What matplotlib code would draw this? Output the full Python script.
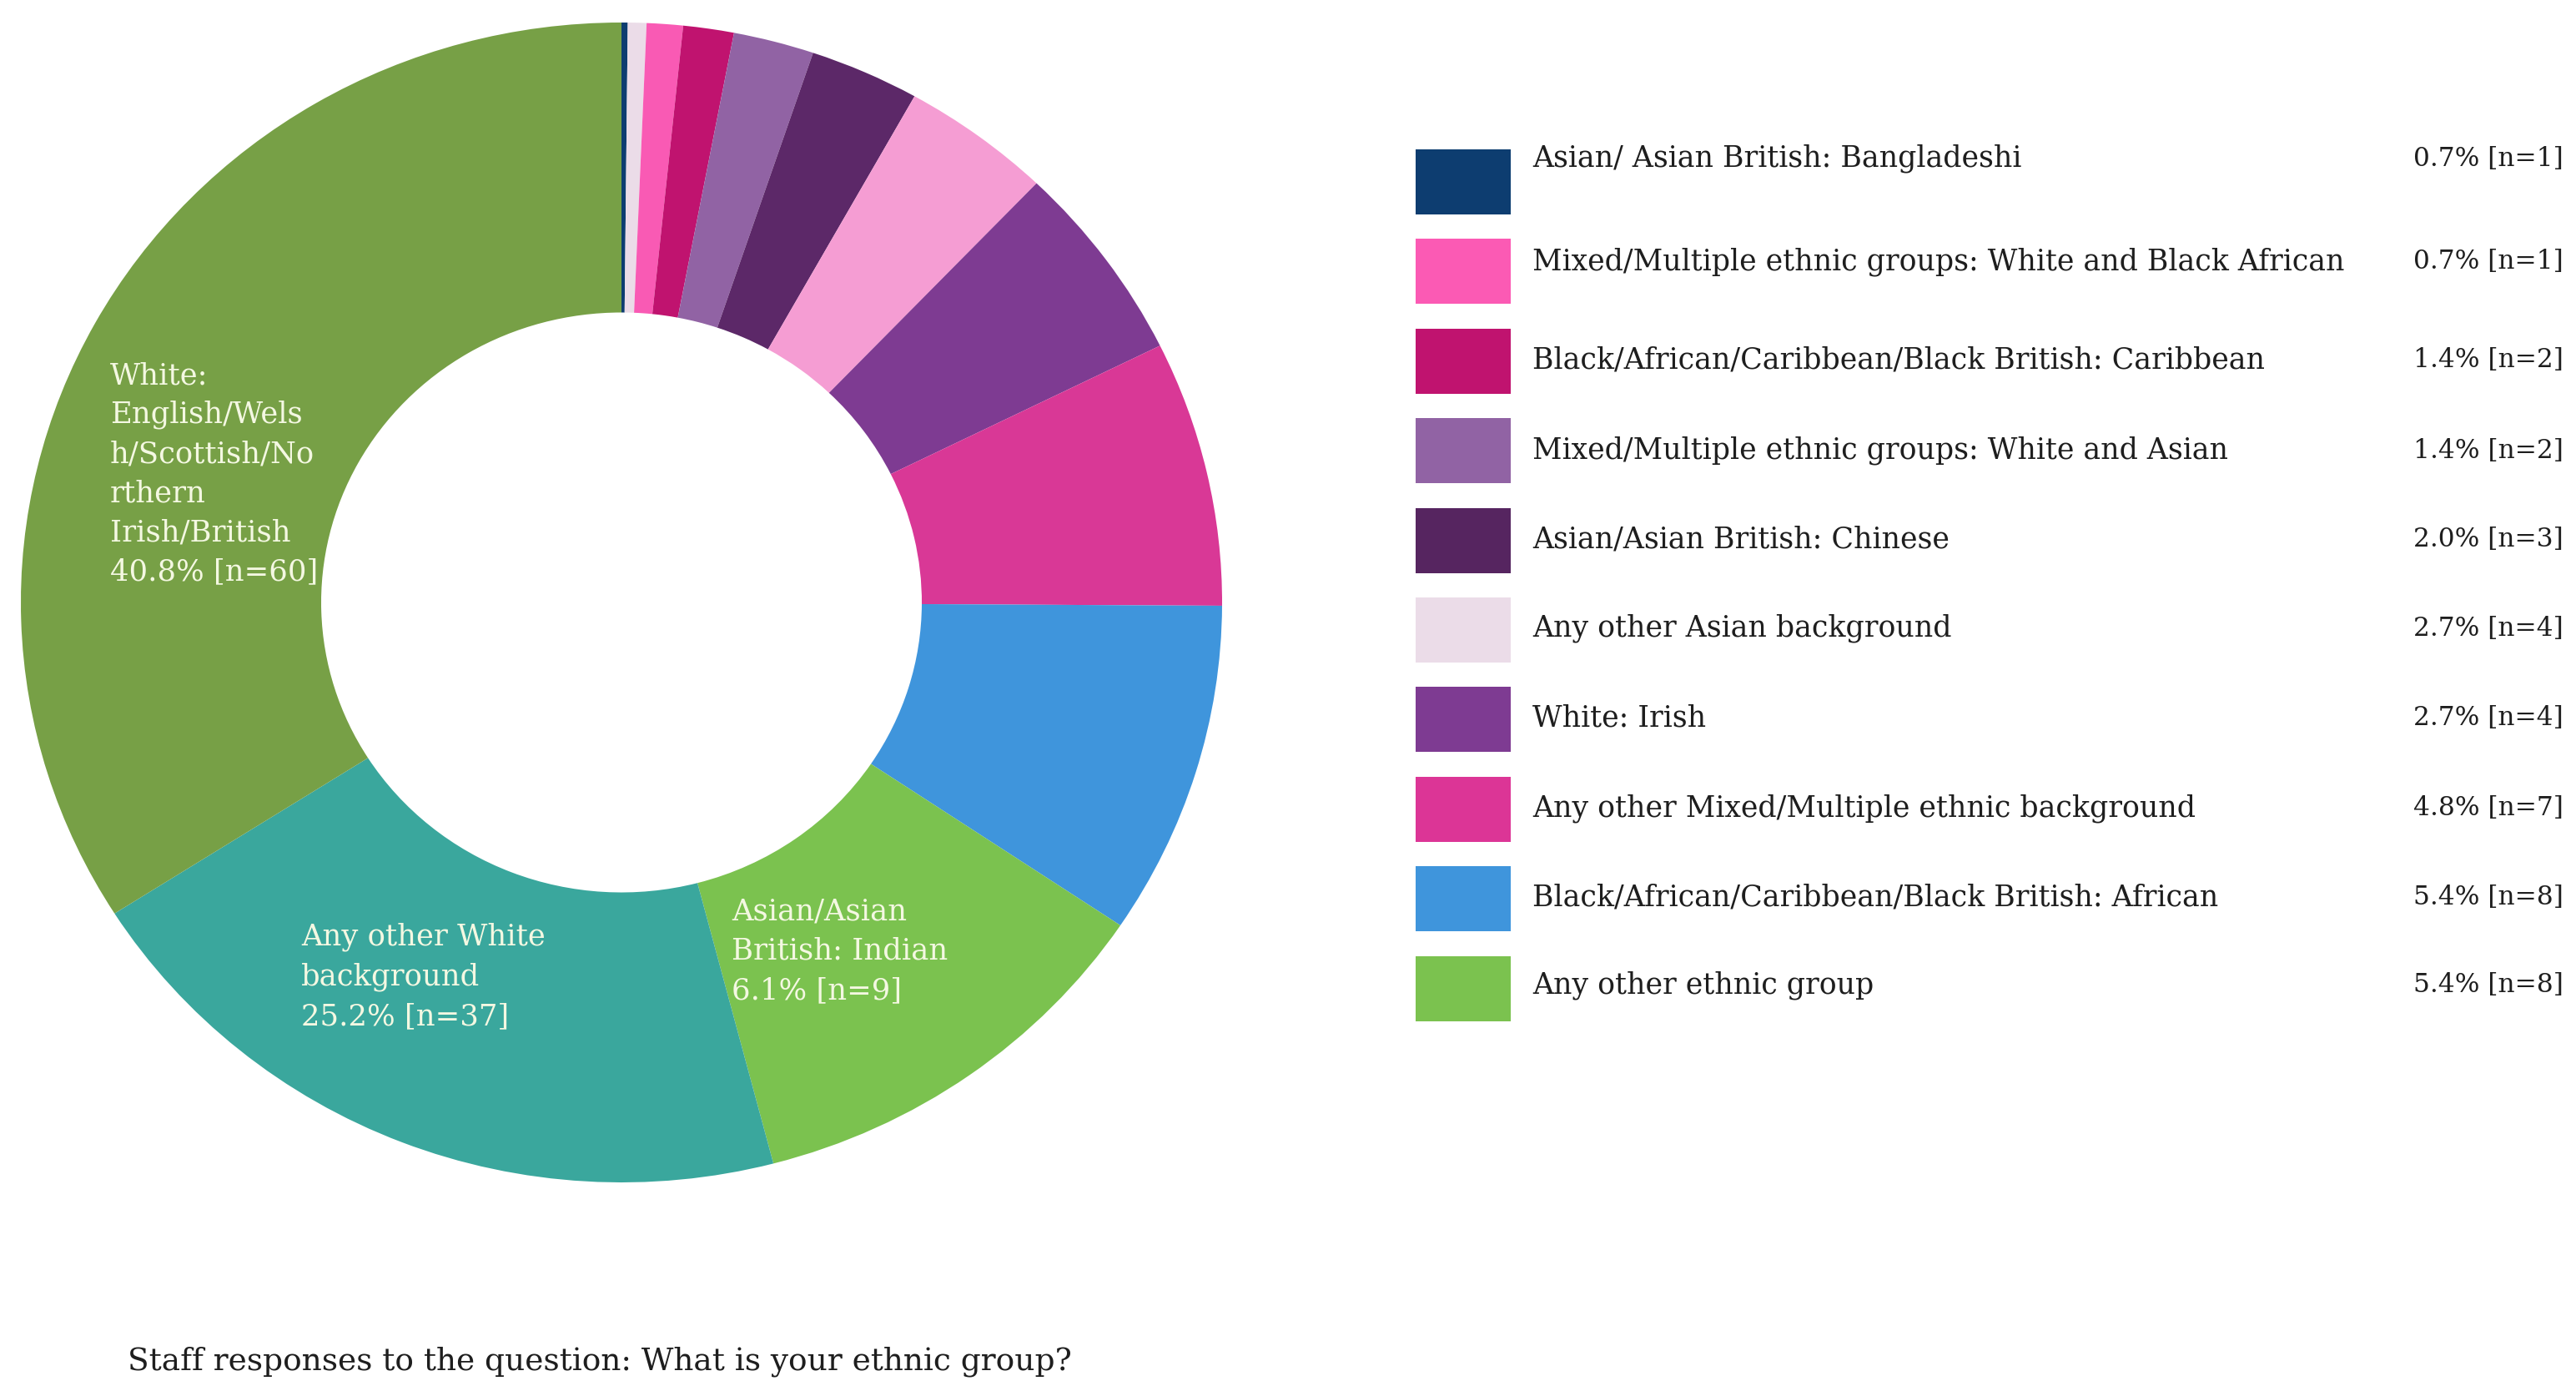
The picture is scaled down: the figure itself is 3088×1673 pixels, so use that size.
import matplotlib
matplotlib.use("Agg")
import matplotlib.pyplot as plt
from matplotlib.patches import Rectangle

# ---------------- data ----------------
# Ring segments, clockwise from 12 o'clock, with the angular span (degrees)
segment_colors = ["#0d3d70", "#ebdce8", "#f95ab4", "#c0136f", "#9163a4", "#5c2868",
                  "#f59dd3", "#7e3b92", "#d93896", "#3f95dc", "#7bc24f", "#3aa79d", "#77a046"]
segment_span_deg = [0.6, 1.8, 3.5, 4.9, 7.8, 10.6, 14.5, 20.0, 26.6, 33.5, 41.5, 72.2, 122.4]

# Labels written inside the ring
inside_labels = [
    ["White:", "English/Wels", "h/Scottish/No", "rthern", "Irish/British", "40.8% [n=60]"],
    ["Any other White", "background", "25.2% [n=37]"],
    ["Asian/Asian", "British: Indian", "6.1% [n=9]"],
]

# Legend entries
legend_labels = [
    "Asian/ Asian British: Bangladeshi",
    "Mixed/Multiple ethnic groups: White and Black African",
    "Black/African/Caribbean/Black British: Caribbean",
    "Mixed/Multiple ethnic groups: White and Asian",
    "Asian/Asian British: Chinese",
    "Any other Asian background",
    "White: Irish",
    "Any other Mixed/Multiple ethnic background",
    "Black/African/Caribbean/Black British: African",
    "Any other ethnic group",
]
legend_pct = [0.7, 0.7, 1.4, 1.4, 2.0, 2.7, 2.7, 4.8, 5.4, 5.4]
legend_n = [1, 1, 2, 2, 3, 4, 4, 7, 8, 8]
legend_colors = ["#0d3d70", "#fb5ab4", "#c0136f", "#9163a4", "#562560",
                 "#ebdce8", "#7e3b92", "#dc3596", "#3f95dc", "#7bc24f"]

caption = "Staff responses to the question: What is your ethnic group?"

# ---------------- figure ----------------
W, H = 3088, 1674
fig = plt.figure(figsize=(W / 100, H / 100), dpi=100)
plt.rcParams["font.family"] = ["DejaVu Serif"]

# donut axes (slightly elliptical like the reference)
cx, cy, rx, ry = 745, 723, 720, 695
ax = fig.add_axes([(cx - rx) / W, 1 - (cy + ry) / H, 2 * rx / W, 2 * ry / H])
ax.pie(segment_span_deg, colors=segment_colors, startangle=90, counterclock=False,
       radius=1.0, wedgeprops=dict(width=0.5, linewidth=0))
ax.set_aspect("auto")
ax.set_xlim(-1, 1)
ax.set_ylim(-1, 1)
ax.axis("off")

# overlay axes in pixel coordinates for text and legend
ov = fig.add_axes([0, 0, 1, 1])
ov.set_xlim(0, W)
ov.set_ylim(H, 0)
ov.axis("off")

label_color = "#f4f8e2"
fs_inside = 25.5
positions = [(132, 450, 47.0), (361, 1123, 47.5), (877, 1092, 47.5)]
for lines, (x0, y0, dy) in zip(inside_labels, positions):
    for k, line in enumerate(lines):
        ov.text(x0, y0 + k * dy, line, color=label_color, fontsize=fs_inside,
                ha="left", va="center")

# legend
fs_leg = 25
fs_val = 22.5
sw_x, sw_w, sw_h = 1697, 114, 78
top0, step = 180, 107.4
text_offsets = [10, 26, 37, 38, 37, 36, 36, 37, 36, 34]
for i, (lab, p, n, c) in enumerate(zip(legend_labels, legend_pct, legend_n, legend_colors)):
    top = top0 + i * step
    ov.add_patch(Rectangle((sw_x, top), sw_w, sw_h, facecolor=c, edgecolor="none"))
    ty = top + text_offsets[i]
    ov.text(1837, ty, lab, fontsize=fs_leg, color="#1e1e1e", ha="left", va="center")
    ov.text(3073, ty, f"{p:.1f}% [n={n}]", fontsize=fs_val, color="#1e1e1e",
            ha="right", va="center")

ov.text(153, 1632, caption, fontsize=27, color="#1e1e1e", ha="left", va="center")

fig.savefig("out.png", dpi=100, facecolor="white")
